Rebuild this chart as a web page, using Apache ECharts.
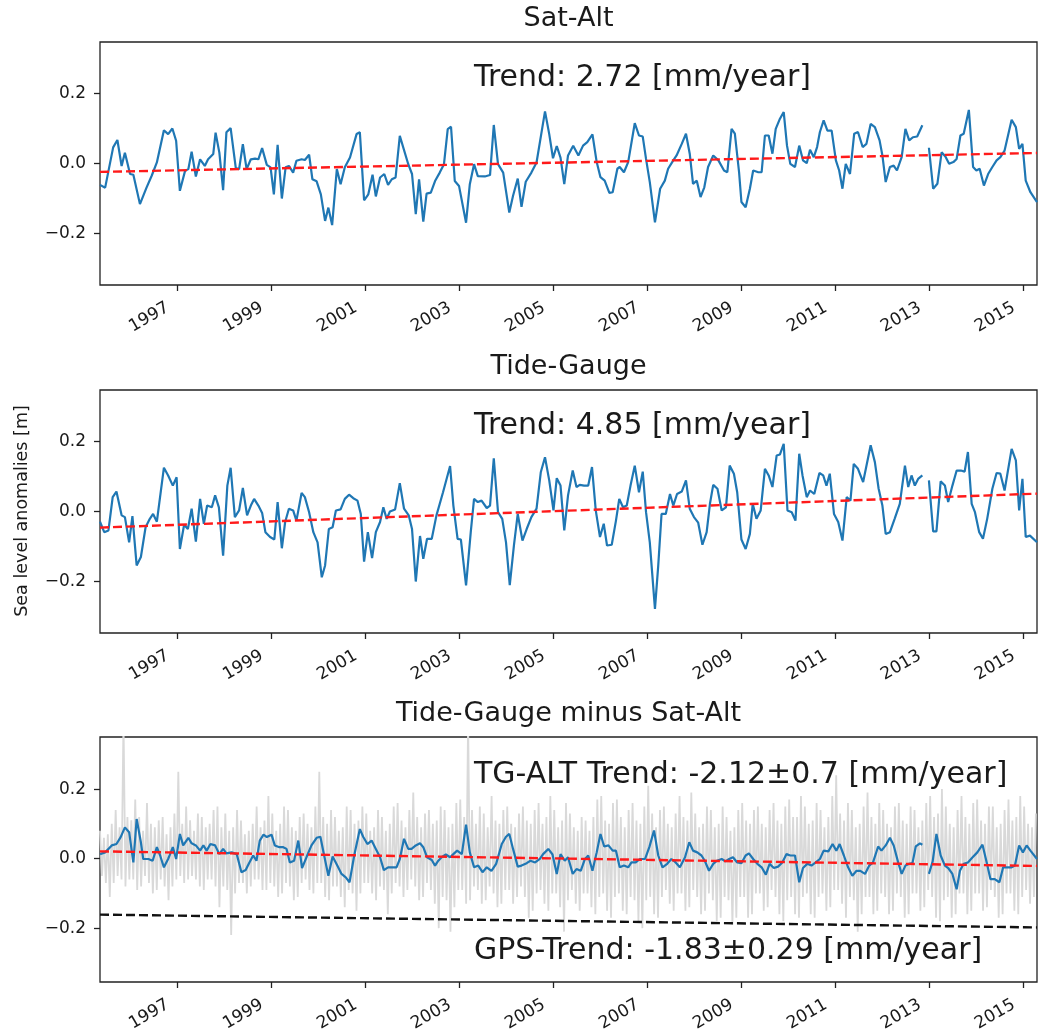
<!DOCTYPE html>
<html><head><meta charset="utf-8">
<script src="https://cdn.jsdelivr.net/npm/echarts@6/dist/echarts.min.js"></script>
<style>html,body{margin:0;padding:0;background:#fff}#c{width:1041px;height:1030px}</style>
</head><body><div id="c"></div>
<script>
// ---------------- data ----------------
const xMin = 1995.35, xMax = 2015.29;
const xTicks = [1997,1999,2001,2003,2005,2007,2009,2011,2013,2015];
const yTicks = [-0.2, 0, 0.2];
const titles = ['Sat-Alt', 'Tide-Gauge', 'Tide-Gauge minus Sat-Alt'];
const yLabel = 'Sea level anomalies [m]';
const trendTexts = ['Trend: 2.72 [mm/year]', 'Trend: 4.85 [mm/year]', 'TG-ALT Trend: -2.12\u00b10.7 [mm/year]'];
const gpsText = 'GPS-Trend: -1.83\u00b10.29 [mm/year]';

// Sat-Alt monthly anomalies [year, m]
const satAlt = [
[1995.35,-0.061],[1995.46,-0.069],[1995.63,0.046],[1995.72,0.067],[1995.81,-0.007],[1995.88,0.031],[1995.99,-0.030],[1996.06,-0.032],[1996.20,-0.116],[1996.34,-0.069],
[1996.45,-0.035],[1996.56,0.003],[1996.71,0.095],[1996.80,0.084],[1996.89,0.100],[1996.97,0.065],[1997.05,-0.078],[1997.16,-0.021],[1997.23,-0.016],[1997.30,0.034],
[1997.39,-0.037],[1997.48,0.012],[1997.58,-0.007],[1997.65,0.012],[1997.76,0.027],[1997.81,0.088],[1997.89,0.031],[1997.97,-0.076],[1998.04,0.089],[1998.13,0.101],
[1998.24,-0.013],[1998.31,-0.016],[1998.39,0.055],[1998.47,-0.016],[1998.56,0.012],[1998.65,0.014],[1998.72,0.012],[1998.80,0.044],[1998.90,-0.004],[1998.98,-0.011],
[1999.05,-0.088],[1999.13,0.053],[1999.22,-0.100],[1999.30,-0.011],[1999.37,-0.007],[1999.46,-0.026],[1999.53,0.008],[1999.64,0.012],[1999.71,0.010],[1999.80,0.025],
[1999.87,-0.045],[1999.96,-0.051],[2000.05,-0.088],[2000.14,-0.164],[2000.21,-0.126],[2000.29,-0.176],[2000.39,-0.016],[2000.47,-0.059],[2000.56,-0.011],[2000.67,0.017],
[2000.81,0.084],[2000.88,0.089],[2000.97,-0.105],[2001.06,-0.088],[2001.15,-0.032],[2001.22,-0.094],[2001.31,-0.040],[2001.40,-0.030],[2001.48,-0.061],[2001.56,-0.045],
[2001.64,-0.040],[2001.73,0.079],[2001.91,-0.002],[2001.99,-0.030],[2002.07,-0.145],[2002.14,-0.045],[2002.23,-0.166],[2002.30,-0.086],[2002.39,-0.083],[2002.48,-0.050],
[2002.58,-0.026],[2002.67,-0.002],[2002.75,0.098],[2002.82,0.105],[2002.90,-0.050],[2002.99,-0.064],[2003.14,-0.169],[2003.22,-0.059],[2003.31,-0.002],[2003.39,-0.036],
[2003.54,-0.037],[2003.65,-0.033],[2003.73,0.110],[2003.82,-0.002],[2003.93,-0.026],[2004.06,-0.140],[2004.14,-0.092],[2004.24,-0.043],[2004.32,-0.124],[2004.41,-0.052],
[2004.53,-0.026],[2004.64,0.003],[2004.82,0.149],[2004.91,0.084],[2004.99,0.015],[2005.07,0.050],[2005.15,0.017],[2005.23,-0.059],[2005.31,0.023],[2005.42,0.051],
[2005.53,0.023],[2005.63,0.051],[2005.72,0.061],[2005.83,0.083],[2005.92,0.004],[2006.00,-0.039],[2006.09,-0.049],[2006.19,-0.084],[2006.26,-0.082],[2006.36,-0.015],
[2006.41,-0.010],[2006.50,-0.025],[2006.59,0.004],[2006.73,0.115],[2006.82,0.080],[2006.90,0.077],[2006.97,0.013],[2007.05,-0.053],[2007.16,-0.168],[2007.27,-0.072],
[2007.37,-0.049],[2007.44,-0.015],[2007.55,0.009],[2007.62,0.023],[2007.73,0.056],[2007.82,0.085],[2007.90,0.028],[2007.97,-0.058],[2008.05,-0.049],[2008.13,-0.096],
[2008.21,-0.068],[2008.29,-0.010],[2008.40,0.023],[2008.51,0.009],[2008.63,-0.020],[2008.70,-0.025],[2008.79,0.099],[2008.86,0.085],[2008.95,-0.025],[2009.00,-0.110],
[2009.09,-0.125],[2009.18,-0.072],[2009.25,-0.020],[2009.36,-0.025],[2009.43,-0.025],[2009.50,0.080],[2009.58,0.080],[2009.66,0.028],[2009.73,0.099],[2009.82,0.128],
[2009.90,0.147],[2009.97,0.051],[2010.04,-0.001],[2010.14,-0.010],[2010.23,0.051],[2010.31,0.009],[2010.39,0.001],[2010.46,0.039],[2010.54,0.018],[2010.61,0.047],
[2010.67,0.090],[2010.75,0.123],[2010.83,0.094],[2010.92,0.094],[2011.01,0.009],[2011.08,-0.020],[2011.15,-0.072],[2011.22,-0.001],[2011.31,-0.030],[2011.40,0.085],
[2011.48,0.090],[2011.58,0.047],[2011.66,0.056],[2011.75,0.113],[2011.84,0.104],[2011.94,0.066],[2012.00,0.023],[2012.07,-0.053],[2012.16,-0.010],[2012.24,-0.006],
[2012.31,-0.020],[2012.41,0.018],[2012.49,0.099],[2012.57,0.066],[2012.65,0.075],[2012.74,0.077],[2012.85,0.109],[2012.92,'-'],[2012.99,0.045],[2013.08,-0.072],
[2013.17,-0.058],[2013.26,0.032],[2013.34,0.020],[2013.42,-0.001],[2013.51,0.004],[2013.58,0.013],[2013.66,0.080],[2013.73,0.085],[2013.84,0.153],[2013.93,-0.010],
[2014.00,-0.020],[2014.07,-0.015],[2014.16,-0.063],[2014.25,-0.030],[2014.34,-0.010],[2014.43,0.009],[2014.51,0.018],[2014.60,0.037],[2014.75,0.125],[2014.84,0.104],
[2014.91,0.042],[2014.98,0.056],[2015.05,-0.049],[2015.15,-0.082],[2015.29,-0.110]
];

// Tide-Gauge monthly anomalies [year, m]
const tideGauge = [
[1995.35,-0.029],[1995.44,-0.059],[1995.53,-0.054],[1995.62,0.041],[1995.70,0.057],[1995.81,-0.011],[1995.88,-0.016],[1995.97,-0.088],[1996.04,-0.013],[1996.13,-0.154],
[1996.22,-0.130],[1996.32,-0.045],[1996.41,-0.021],[1996.48,-0.007],[1996.56,-0.029],[1996.71,0.125],[1996.80,0.103],[1996.90,0.074],[1996.98,0.098],[1997.05,-0.107],
[1997.14,-0.038],[1997.22,-0.050],[1997.30,0.008],[1997.39,-0.086],[1997.48,0.036],[1997.56,-0.035],[1997.63,0.017],[1997.73,0.012],[1997.80,0.046],[1997.88,0.012],
[1997.97,-0.126],[1998.06,0.074],[1998.13,0.125],[1998.22,-0.016],[1998.31,0.003],[1998.39,0.067],[1998.48,-0.011],[1998.56,0.017],[1998.63,0.036],[1998.72,0.017],
[1998.80,-0.004],[1998.87,-0.059],[1998.97,-0.073],[1999.06,-0.080],[1999.13,0.027],[1999.22,-0.105],[1999.29,-0.030],[1999.37,0.008],[1999.46,0.003],[1999.53,-0.026],
[1999.64,0.053],[1999.71,0.041],[1999.80,-0.002],[1999.89,-0.059],[1999.98,-0.088],[2000.07,-0.188],[2000.14,-0.154],[2000.22,-0.050],[2000.30,-0.045],[2000.37,0.003],
[2000.47,0.006],[2000.56,0.036],[2000.65,0.048],[2000.74,0.038],[2000.83,0.031],[2000.90,-0.007],[2000.97,-0.143],[2001.05,-0.059],[2001.14,-0.133],[2001.22,-0.059],
[2001.31,-0.030],[2001.38,0.012],[2001.45,-0.021],[2001.52,0.000],[2001.63,0.006],[2001.73,0.081],[2001.82,0.008],[2001.92,-0.011],[2001.99,-0.050],[2002.07,-0.200],
[2002.16,-0.070],[2002.23,-0.135],[2002.31,-0.078],[2002.41,-0.078],[2002.51,-0.011],[2002.65,0.055],[2002.80,0.130],[2002.87,0.017],[2002.96,-0.078],[2003.03,-0.080],
[2003.14,-0.211],[2003.24,-0.059],[2003.31,0.036],[2003.39,0.027],[2003.47,0.031],[2003.58,0.010],[2003.65,0.017],[2003.73,0.152],[2003.82,-0.002],[2003.91,-0.021],
[2003.99,-0.088],[2004.07,-0.210],[2004.16,-0.095],[2004.24,-0.007],[2004.34,-0.083],[2004.43,-0.050],[2004.53,-0.016],[2004.64,0.008],[2004.73,0.112],[2004.82,0.155],
[2004.91,0.089],[2005.00,0.003],[2005.07,0.095],[2005.15,0.074],[2005.23,-0.054],[2005.31,0.046],[2005.41,0.117],[2005.49,0.070],[2005.56,0.076],[2005.65,0.074],
[2005.74,0.074],[2005.82,0.127],[2005.90,0.003],[2005.99,-0.073],[2006.07,-0.035],[2006.14,-0.097],[2006.24,-0.095],[2006.33,-0.026],[2006.40,0.036],[2006.48,0.012],
[2006.56,0.017],[2006.64,0.074],[2006.73,0.131],[2006.82,0.055],[2006.90,0.114],[2006.97,-0.002],[2007.05,-0.088],[2007.16,-0.278],[2007.23,-0.154],[2007.30,-0.007],
[2007.39,-0.007],[2007.48,0.050],[2007.55,0.017],[2007.63,0.050],[2007.73,0.057],[2007.82,0.089],[2007.90,0.008],[2007.99,-0.016],[2008.08,-0.032],[2008.17,-0.095],
[2008.26,-0.059],[2008.33,0.022],[2008.40,0.076],[2008.49,0.065],[2008.58,0.003],[2008.67,0.012],[2008.75,0.131],[2008.84,0.108],[2008.91,0.055],[2009.00,-0.080],
[2009.09,-0.107],[2009.18,-0.064],[2009.24,0.022],[2009.32,-0.021],[2009.41,0.003],[2009.50,0.122],[2009.58,0.103],[2009.66,0.070],[2009.75,0.160],[2009.82,0.163],
[2009.90,0.193],[2009.98,0.003],[2010.07,-0.002],[2010.15,-0.026],[2010.23,0.165],[2010.30,0.103],[2010.39,0.041],[2010.46,0.060],[2010.55,0.050],[2010.66,0.110],
[2010.74,0.103],[2010.81,0.074],[2010.88,0.108],[2010.97,-0.007],[2011.06,-0.030],[2011.15,-0.083],[2011.24,0.041],[2011.32,0.031],[2011.39,0.136],[2011.48,0.122],
[2011.59,0.084],[2011.75,0.189],[2011.84,0.141],[2011.92,0.065],[2012.00,0.017],[2012.07,-0.064],[2012.16,-0.059],[2012.26,-0.021],[2012.37,0.022],[2012.48,0.131],
[2012.55,0.070],[2012.62,0.103],[2012.69,0.074],[2012.76,0.093],[2012.85,0.103],[2012.92,'-'],[2012.99,0.089],[2013.08,-0.057],[2013.15,-0.057],[2013.24,0.086],
[2013.33,0.074],[2013.40,0.027],[2013.49,0.074],[2013.58,0.117],[2013.67,0.117],[2013.75,0.114],[2013.82,0.170],[2013.90,0.022],[2013.97,-0.002],[2014.06,-0.059],
[2014.14,-0.078],[2014.23,-0.021],[2014.34,0.065],[2014.43,0.110],[2014.51,0.108],[2014.60,0.060],[2014.75,0.179],[2014.84,0.146],[2014.91,0.003],[2014.98,0.093],
[2015.05,-0.073],[2015.14,-0.069],[2015.29,-0.088]
];

// Tide-Gauge minus Sat-Alt, monthly [year, m]
const tgMinusAlt = [
[1995.35,0.013],[1995.46,0.018],[1995.60,0.038],[1995.70,0.042],[1995.79,0.062],[1995.88,0.090],[1995.97,0.076],[1996.06,-0.011],[1996.13,0.114],[1996.22,0.047],
[1996.27,-0.001],[1996.38,-0.001],[1996.47,-0.006],[1996.56,0.033],[1996.63,0.009],[1996.71,-0.025],[1996.80,-0.001],[1996.90,0.033],[1996.97,-0.001],[1997.05,0.071],
[1997.12,0.038],[1997.23,0.060],[1997.30,0.044],[1997.39,0.038],[1997.48,0.023],[1997.55,0.038],[1997.62,0.023],[1997.70,0.042],[1997.80,0.038],[1997.89,0.013],
[1997.97,0.028],[1998.04,0.015],[1998.15,0.018],[1998.26,0.013],[1998.36,-0.039],[1998.45,-0.033],[1998.53,-0.011],[1998.61,0.009],[1998.68,-0.006],[1998.75,0.052],
[1998.83,0.069],[1998.90,0.062],[1999.00,0.069],[1999.07,0.038],[1999.17,0.033],[1999.25,0.033],[1999.32,0.028],[1999.39,-0.011],[1999.48,-0.006],[1999.57,0.052],
[1999.65,-0.027],[1999.75,0.006],[1999.85,0.038],[1999.96,0.060],[2000.04,0.063],[2000.12,0.009],[2000.21,-0.049],[2000.30,0.006],[2000.40,-0.020],[2000.49,-0.044],
[2000.58,-0.054],[2000.66,-0.068],[2000.76,0.009],[2000.88,0.085],[2000.95,0.063],[2001.04,0.042],[2001.13,0.052],[2001.22,0.028],[2001.31,0.004],[2001.39,-0.033],
[2001.48,-0.025],[2001.59,-0.025],[2001.66,-0.025],[2001.73,-0.001],[2001.82,0.057],[2001.91,0.028],[2001.98,0.028],[2002.07,0.038],[2002.16,0.044],[2002.23,0.033],
[2002.31,0.004],[2002.41,-0.004],[2002.48,-0.020],[2002.55,-0.006],[2002.62,0.004],[2002.71,0.012],[2002.80,0.004],[2002.87,0.013],[2002.95,0.023],[2003.05,0.013],
[2003.14,0.098],[2003.22,0.018],[2003.31,-0.025],[2003.40,-0.020],[2003.49,-0.039],[2003.58,-0.025],[2003.68,-0.035],[2003.78,-0.015],[2003.90,0.042],[2003.99,0.063],
[2004.06,0.071],[2004.14,0.028],[2004.24,-0.023],[2004.32,-0.020],[2004.43,-0.013],[2004.51,-0.006],[2004.61,-0.011],[2004.71,-0.001],[2004.78,0.013],[2004.89,0.028],
[2004.98,0.012],[2005.07,-0.044],[2005.15,0.013],[2005.24,-0.006],[2005.31,0.004],[2005.41,-0.044],[2005.49,-0.030],[2005.58,-0.035],[2005.67,-0.001],[2005.74,0.009],
[2005.83,-0.035],[2005.92,0.018],[2006.00,0.071],[2006.08,0.035],[2006.17,0.038],[2006.26,0.023],[2006.33,0.023],[2006.41,-0.025],[2006.50,-0.020],[2006.59,-0.025],
[2006.66,-0.011],[2006.75,-0.011],[2006.84,-0.001],[2006.95,-0.001],[2007.04,0.033],[2007.14,0.081],[2007.23,0.009],[2007.32,-0.025],[2007.42,-0.015],[2007.51,-0.001],
[2007.60,-0.011],[2007.69,-0.025],[2007.80,0.004],[2007.89,0.047],[2007.97,0.023],[2008.06,0.018],[2008.15,0.009],[2008.22,-0.006],[2008.31,-0.035],[2008.40,-0.015],
[2008.48,-0.006],[2008.58,-0.001],[2008.66,-0.008],[2008.74,-0.001],[2008.82,0.004],[2008.91,-0.011],[2009.00,-0.013],[2009.09,0.009],[2009.16,0.015],[2009.25,-0.001],
[2009.34,-0.015],[2009.43,-0.025],[2009.52,-0.046],[2009.60,-0.015],[2009.69,-0.027],[2009.78,-0.023],[2009.87,-0.011],[2009.96,0.013],[2010.04,0.009],[2010.14,0.009],
[2010.23,-0.068],[2010.31,-0.027],[2010.40,-0.015],[2010.49,-0.020],[2010.58,-0.011],[2010.67,-0.001],[2010.75,0.023],[2010.85,0.021],[2010.94,0.042],[2011.02,0.023],
[2011.09,0.042],[2011.18,0.009],[2011.27,-0.025],[2011.36,-0.049],[2011.45,-0.035],[2011.53,-0.035],[2011.63,-0.044],[2011.72,-0.020],[2011.80,-0.011],[2011.91,0.035],
[2011.98,0.023],[2012.07,0.038],[2012.16,0.060],[2012.24,0.038],[2012.34,-0.013],[2012.41,-0.044],[2012.49,-0.020],[2012.57,-0.015],[2012.64,-0.013],[2012.71,0.035],
[2012.80,0.044],[2012.85,0.040],[2012.92,'-'],[2012.99,-0.044],[2013.07,-0.008],[2013.15,0.071],[2013.24,0.009],[2013.33,-0.020],[2013.40,-0.027],[2013.49,-0.044],
[2013.58,-0.088],[2013.65,-0.035],[2013.73,-0.015],[2013.82,-0.011],[2013.92,0.004],[2014.02,0.018],[2014.13,0.040],[2014.22,-0.011],[2014.30,-0.059],[2014.39,-0.059],
[2014.49,-0.068],[2014.57,-0.025],[2014.66,-0.025],[2014.75,-0.025],[2014.82,-0.020],[2014.91,0.038],[2014.99,0.018],[2015.07,0.038],[2015.15,0.023],[2015.29,-0.001]
];

// high-frequency TG-ALT envelope per month from xMin: monthly highs and lows [m]
const greyStep = 1 / 12;
const greyHi = [
0.08,0.06,0.07,0.10,0.14,0.09,0.40,0.12,0.11,0.17,0.12,0.08,0.16,0.10,0.09,0.11,0.12,0.07,0.09,0.13,
0.25,0.10,0.15,0.11,0.08,0.13,0.12,0.09,0.10,0.14,0.15,0.09,0.13,0.08,0.09,0.14,0.11,0.07,0.08,0.10,
0.15,0.09,0.11,0.18,0.13,0.08,0.10,0.15,0.14,0.09,0.08,0.12,0.13,0.10,0.09,0.15,0.25,0.12,0.10,0.14,
0.12,0.08,0.09,0.15,0.14,0.10,0.11,0.15,0.13,0.08,0.09,0.14,0.12,0.08,0.10,0.15,0.16,0.11,0.09,0.14,
0.19,0.12,0.09,0.13,0.14,0.10,0.11,0.15,0.14,0.09,0.10,0.16,0.17,0.12,0.40,0.14,0.10,0.15,0.13,0.09,
0.18,0.11,0.10,0.14,0.15,0.10,0.09,0.13,0.15,0.11,0.10,0.14,0.16,0.10,0.12,0.18,0.14,0.09,0.11,0.16,
0.13,0.09,0.08,0.12,0.11,0.08,0.12,0.17,0.18,0.11,0.10,0.16,0.17,0.12,0.09,0.14,0.16,0.11,0.10,0.15,
0.21,0.13,0.09,0.14,0.15,0.10,0.09,0.13,0.18,0.12,0.11,0.19,0.13,0.09,0.10,0.15,0.14,0.09,0.10,0.15,
0.12,0.08,0.09,0.14,0.16,0.11,0.10,0.14,0.15,0.10,0.09,0.14,0.16,0.11,0.10,0.15,0.17,0.12,0.12,0.18,
0.15,0.10,0.11,0.16,0.14,0.09,0.12,0.18,0.24,0.13,0.11,0.16,0.14,0.09,0.10,0.15,0.19,0.12,0.10,0.16,
0.14,0.10,0.09,0.15,0.16,0.11,0.10,0.15,0.14,0.09,0.11,0.16,0.18,0.12,0.13,0.20,0.15,0.10,0.09,0.14,
0.18,0.12,0.10,0.16,0.17,0.11,0.10,0.15,0.15,0.09,0.10,0.14,0.17,0.11,0.12,0.18,0.15,0.10,0.09,0.13];
const greyLo = [
-0.05,-0.07,-0.11,-0.07,-0.05,-0.06,-0.08,-0.06,-0.06,-0.09,-0.08,-0.05,-0.07,-0.10,-0.09,-0.06,-0.08,-0.12,-0.08,-0.06,
-0.05,-0.07,-0.06,-0.05,-0.06,-0.08,-0.09,-0.06,-0.06,-0.08,-0.14,-0.08,-0.09,-0.22,-0.10,-0.07,-0.07,-0.10,-0.08,-0.06,
-0.06,-0.09,-0.09,-0.07,-0.08,-0.11,-0.10,-0.07,-0.08,-0.12,-0.11,-0.07,-0.06,-0.09,-0.10,-0.07,-0.07,-0.11,-0.12,-0.08,
-0.08,-0.11,-0.14,-0.09,-0.10,-0.15,-0.10,-0.07,-0.07,-0.10,-0.12,-0.08,-0.09,-0.16,-0.10,-0.07,-0.08,-0.11,-0.09,-0.06,
-0.08,-0.12,-0.11,-0.07,-0.09,-0.13,-0.20,-0.11,-0.12,-0.21,-0.14,-0.09,-0.09,-0.13,-0.12,-0.08,-0.09,-0.13,-0.12,-0.08,
-0.10,-0.14,-0.13,-0.09,-0.09,-0.13,-0.11,-0.08,-0.11,-0.17,-0.15,-0.10,-0.09,-0.13,-0.15,-0.10,-0.10,-0.14,-0.21,-0.12,
-0.09,-0.13,-0.15,-0.10,-0.10,-0.14,-0.16,-0.11,-0.10,-0.15,-0.17,-0.11,-0.10,-0.15,-0.16,-0.11,-0.12,-0.18,-0.20,-0.12,
-0.11,-0.16,-0.17,-0.11,-0.09,-0.13,-0.15,-0.10,-0.10,-0.15,-0.14,-0.09,-0.11,-0.16,-0.15,-0.10,-0.12,-0.18,-0.17,-0.11,
-0.12,-0.19,-0.17,-0.11,-0.11,-0.17,-0.16,-0.10,-0.10,-0.15,-0.14,-0.09,-0.11,-0.16,-0.18,-0.12,-0.11,-0.16,-0.17,-0.11,
-0.10,-0.16,-0.17,-0.11,-0.10,-0.15,-0.14,-0.09,-0.09,-0.13,-0.17,-0.11,-0.12,-0.21,-0.16,-0.11,-0.11,-0.16,-0.15,-0.10,
-0.11,-0.16,-0.15,-0.10,-0.11,-0.17,-0.16,-0.10,-0.10,-0.15,-0.14,-0.09,-0.11,-0.17,-0.18,-0.12,-0.11,-0.17,-0.16,-0.10,
-0.10,-0.16,-0.15,-0.10,-0.10,-0.15,-0.14,-0.09,-0.11,-0.17,-0.16,-0.10,-0.10,-0.15,-0.16,-0.11,-0.09,-0.13,-0.11,-0.08];

// linear trends: [start, end] values at xMin / xMax
const trendSat = [-0.024, 0.030];
const trendTG = [-0.046, 0.051];
const trendDiff = [0.021, -0.021];
const trendGPS = [-0.161, -0.198];

// ---------------- chart ----------------
const FONT = '"DejaVu Sans", sans-serif';
const TXT = '#1a1a1a';
const gridTops = [42, 390, 737];
const gridHeights = [243, 243, 245];
const yRanges = [[-0.347, 0.347], [-0.347, 0.347], [-0.355, 0.35]];

const greyData = [];
greyHi.forEach((h, i) => {
  const t = xMin + i * greyStep;
  if (t <= xMax) greyData.push([t, h]);
  if (t + greyStep / 2 <= xMax) greyData.push([t + greyStep / 2, greyLo[i]]);
});

const grids = gridTops.map((t, i) => ({
  left: 100, width: 937, top: t, height: gridHeights[i],
  show: true, borderColor: '#222', borderWidth: 1.3, backgroundColor: 'transparent',
  containLabel: false, outerBoundsMode: 'none'
}));

const xAxes = grids.map((g, i) => ({
  type: 'value', gridIndex: i, min: xMin, max: xMax, position: 'bottom',
  axisLine: { show: false, onZero: false },
  splitLine: { show: false },
  axisTick: { show: true, customValues: xTicks, length: 6, lineStyle: { color: '#222', width: 1.3 } },
  axisLabel: { show: true, customValues: xTicks, rotate: 30, margin: 16, padding: [0, 11, 0, 0],
    fontSize: 17, fontFamily: FONT, color: TXT, formatter: v => String(Math.round(v)) }
}));

const yAxes = grids.map((g, i) => ({
  type: 'value', gridIndex: i, min: yRanges[i][0], max: yRanges[i][1], position: 'left',
  axisLine: { show: false, onZero: false },
  splitLine: { show: false },
  axisTick: { show: true, customValues: yTicks, length: 6, lineStyle: { color: '#222', width: 1.3 } },
  axisLabel: { show: true, customValues: yTicks, margin: 14, fontSize: 17, fontFamily: FONT, color: TXT,
    formatter: v => (v < 0 ? '\u2212' : '') + Math.abs(v).toFixed(1) }
}));

const blue = '#1f77b4';
function lineSeries(idx, data, color, width, type, z) {
  return { type: 'line', xAxisIndex: idx, yAxisIndex: idx, data: data, showSymbol: false, symbol: 'none',
    connectNulls: false, clip: true, z: z, silent: true,
    lineStyle: { color: color, width: width, type: type } };
}
function trendData(t) { return [[xMin, t[0]], [xMax, t[1]]]; }

const series = [
  lineSeries(0, satAlt, blue, 2.2, 'solid', 3),
  lineSeries(0, trendData(trendSat), '#ff1a1a', 2.4, [9, 4], 4),
  lineSeries(1, tideGauge, blue, 2.2, 'solid', 3),
  lineSeries(1, trendData(trendTG), '#ff1a1a', 2.4, [9, 4], 4),
  lineSeries(2, greyData, '#d9d9d9', 1.8, 'solid', 1),
  lineSeries(2, tgMinusAlt, blue, 2.2, 'solid', 3),
  lineSeries(2, trendData(trendDiff), '#ff1a1a', 2.4, [9, 4], 4),
  lineSeries(2, trendData(trendGPS), '#111', 2.4, [9, 4], 4)
];

const graphic = [];
titles.forEach((t, i) => {
  graphic.push({ type: 'text', x: 568.5, y: gridTops[i] - 23, z: 10,
    style: { text: t, font: '27px ' + FONT, fill: TXT, align: 'center', verticalAlign: 'middle' } });
});
const trendY = [78, 426, 775];
trendTexts.forEach((t, i) => {
  graphic.push({ type: 'text', x: 474, y: trendY[i], z: 10,
    style: { text: t, font: '30px ' + FONT, fill: TXT, align: 'left', verticalAlign: 'middle' } });
});
graphic.push({ type: 'text', x: 474, y: 951, z: 10,
  style: { text: gpsText, font: '30px ' + FONT, fill: TXT, align: 'left', verticalAlign: 'middle' } });
graphic.push({ type: 'text', x: 22, y: 511, rotation: Math.PI / 2, z: 10,
  style: { text: yLabel, font: '17.5px ' + FONT, fill: TXT, align: 'center', verticalAlign: 'middle' } });

const chart = echarts.init(document.getElementById('c'), null, { renderer: 'canvas' });
chart.setOption({
  animation: false,
  backgroundColor: '#fff',
  grid: grids, xAxis: xAxes, yAxis: yAxes, series: series, graphic: graphic
});
</script></body></html>
